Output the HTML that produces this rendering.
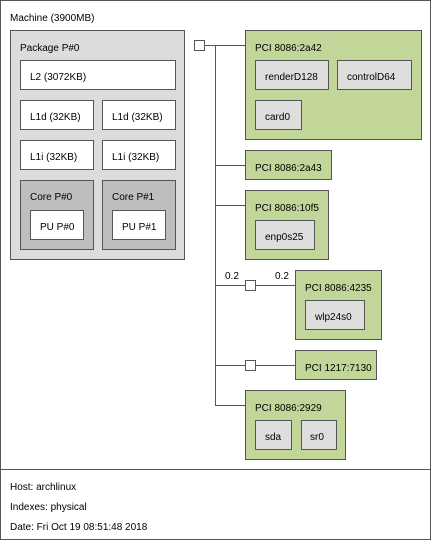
<!DOCTYPE html>
<html><head><style>body{margin:0;background:#fff}svg{display:block}text{font-family:"Liberation Sans",sans-serif;font-size:10px;fill:#000}</style></head><body>
<svg width="431" height="540" xmlns="http://www.w3.org/2000/svg">
<g stroke="#555" stroke-width="1" shape-rendering="crispEdges">
<rect x="0.5" y="0.5" width="430" height="539" fill="#fff"/>
<line x1="0" y1="469.5" x2="431" y2="469.5"/>
<rect x="10.5" y="30.5" width="174" height="229" fill="#dcdcdc"/>
<rect x="20.5" y="60.5" width="155" height="29" fill="#fff"/>
<rect x="20.5" y="100.5" width="73" height="29" fill="#fff"/>
<rect x="102.5" y="100.5" width="73" height="29" fill="#fff"/>
<rect x="20.5" y="140.5" width="73" height="29" fill="#fff"/>
<rect x="102.5" y="140.5" width="73" height="29" fill="#fff"/>
<rect x="20.5" y="180.5" width="73" height="69" fill="#bebebe"/>
<rect x="102.5" y="180.5" width="73" height="69" fill="#bebebe"/>
<rect x="30.5" y="210.5" width="53" height="29" fill="#fff"/>
<rect x="112.5" y="210.5" width="53" height="29" fill="#fff"/>
<line x1="205" y1="45.5" x2="245" y2="45.5"/>
<line x1="215.5" y1="45" x2="215.5" y2="405"/>
<line x1="215" y1="165.5" x2="245" y2="165.5"/>
<line x1="215" y1="205.5" x2="245" y2="205.5"/>
<line x1="215" y1="285.5" x2="295" y2="285.5"/>
<line x1="215" y1="365.5" x2="295" y2="365.5"/>
<line x1="215" y1="405.5" x2="245" y2="405.5"/>
<rect x="194.5" y="40.5" width="10" height="10" fill="#fff"/>
<rect x="245.5" y="280.5" width="10" height="10" fill="#fff"/>
<rect x="245.5" y="360.5" width="10" height="10" fill="#fff"/>
<g fill="#c2d699">
<rect x="245.5" y="30.5" width="176" height="109"/>
<rect x="245.5" y="150.5" width="86" height="29"/>
<rect x="245.5" y="190.5" width="83" height="69"/>
<rect x="295.5" y="270.5" width="86" height="69"/>
<rect x="295.5" y="350.5" width="81" height="29"/>
<rect x="245.5" y="390.5" width="100" height="69"/>
</g>
<g fill="#dedede">
<rect x="255.5" y="60.5" width="73" height="29"/>
<rect x="337.5" y="60.5" width="74" height="29"/>
<rect x="255.5" y="100.5" width="46" height="29"/>
<rect x="255.5" y="220.5" width="59" height="29"/>
<rect x="305.5" y="300.5" width="59" height="29"/>
<rect x="255.5" y="420.5" width="36" height="29"/>
<rect x="301.5" y="420.5" width="35" height="29"/>
</g>
</g>
<text x="10" y="21">Machine (3900MB)</text>
<text x="20" y="51">Package P#0</text>
<text x="30" y="80">L2 (3072KB)</text>
<text x="30" y="120">L1d (32KB)</text>
<text x="112" y="120">L1d (32KB)</text>
<text x="30" y="160">L1i (32KB)</text>
<text x="112" y="160">L1i (32KB)</text>
<text x="30" y="200">Core P#0</text>
<text x="112" y="200">Core P#1</text>
<text x="40" y="230">PU P#0</text>
<text x="122" y="230">PU P#1</text>
<text x="255" y="51">PCI 8086:2a42</text>
<text x="265" y="80">renderD128</text>
<text x="347" y="80">controlD64</text>
<text x="265" y="120">card0</text>
<text x="255" y="171">PCI 8086:2a43</text>
<text x="255" y="211">PCI 8086:10f5</text>
<text x="265" y="240">enp0s25</text>
<text x="225" y="279">0.2</text>
<text x="275" y="279">0.2</text>
<text x="305" y="291">PCI 8086:4235</text>
<text x="315" y="320">wlp24s0</text>
<text x="305" y="371">PCI 1217:7130</text>
<text x="255" y="411">PCI 8086:2929</text>
<text x="265" y="440">sda</text>
<text x="310" y="440">sr0</text>
<text x="10" y="490">Host: archlinux</text>
<text x="10" y="510">Indexes: physical</text>
<text x="10" y="530">Date: Fri Oct 19 08:51:48 2018</text>
</svg>
</body></html>
